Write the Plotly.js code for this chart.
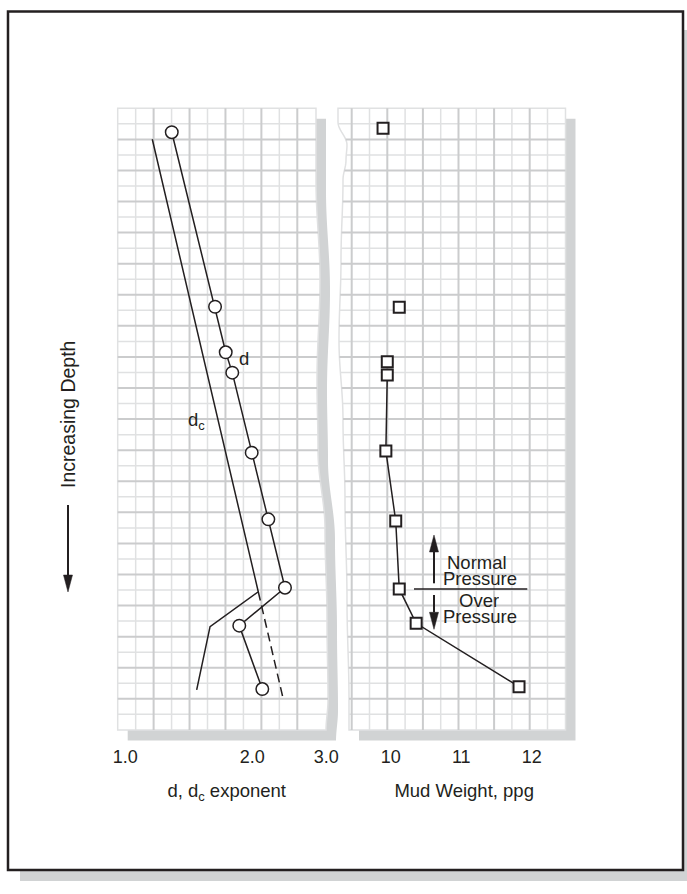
<!DOCTYPE html>
<html><head><meta charset="utf-8">
<script src="https://cdn.plot.ly/plotly-3.0.1.min.js"></script>
<style>html,body{margin:0;padding:0;background:#fff}#chart{width:687px;height:894px}</style>
</head><body><div id="chart"></div>
<script>
// ---------------- data (depth in arbitrary grid units, increasing downward) ----------------
const dDepth      = [1.54, 12.77, 15.70, 17.01, 22.16, 26.45, 30.85, 33.29, 37.37];
const dExponent   = [1.289, 1.633, 1.731, 1.794, 1.995, 2.185, 2.393, 1.864, 2.114];
const dcDepth     = [1.99, 31.11, 33.36, 37.43];
const dcExponent  = [1.159, 2.068, 1.589, 1.477];
const dcTrendDepth    = [31.11, 37.86];
const dcTrendExponent = [2.068, 2.363];
const mwDepth   = [1.29, 12.81, 16.31, 17.16, 22.05, 26.56, 30.93, 33.14, 37.22];
const mudWeight = [9.89, 10.12, 9.95, 9.95, 9.93, 10.07, 10.12, 10.36, 11.82];
const mwLineStart = 3;
const dTickVals = [1, 2, 3];
const dTickText = ['1.0', '2.0', '3.0'];
const mwTickVals = [10, 11, 12];
const mwTickText = ['10', '11', '12'];

// ---------------- decoration helpers (pixel -> paper) ----------------
const W = 687, H = 894;
const X = x => (x / W).toFixed(5);
const Y = y => (1 - y / H).toFixed(5);
function poly(pts, close) {
  return pts.map((p, i) => (i ? 'L' : 'M') + X(p[0]) + ',' + Y(p[1])).join(' ') + (close ? ' Z' : '');
}
function wave(k, y) {
  if (y <= k[0][0]) return k[0][1];
  for (let i = 0; i < k.length - 1; i++) {
    const [y0, v0] = k[i], [y1, v1] = k[i + 1];
    if (y <= y1) { const t = (y - y0) / (y1 - y0); const s = (1 - Math.cos(Math.PI * t)) / 2; return v0 + (v1 - v0) * s; }
  }
  return k[k.length - 1][1];
}
const rKnots = [[108,316],[180,316],[280,320],[380,317],[450,318],[530,325],[620,327],[700,328],[731,326]];
const lKnots = [[108,338],[122,338],[145,347],[160,346],[180,343],[260,341],[340,339],[420,343],[500,345],[600,347],[700,349],[731,349]];

const gTop = 108.3, gBot = 729.9, rows = 40, rowH = (gBot - gTop) / rows;
const lx0 = 117.7, lcw = 17.96;
const rx0 = 333.9, rcw = 17.8, rx1 = 565.5;

const leftPts = [[lx0, gTop]];
for (let y = gTop; y < gBot; y += 2) leftPts.push([wave(rKnots, y), y]);
leftPts.push([wave(rKnots, gBot), gBot]); leftPts.push([lx0, gBot]);
const rightPts = [[wave(lKnots, gTop), gTop], [rx1, gTop], [rx1, gBot]];
for (let y = gBot; y > gTop; y -= 2) rightPts.push([wave(lKnots, y), y]);
rightPts.push([wave(lKnots, gTop), gTop]);
const sh = p => [p[0] + 10, p[1] + 10.5];

let lLight = '', lHeavy = '', rLight = '', rHeavy = '';
for (let i = 1; i <= 10; i++) {
  const x = lx0 + i * lcw, s = poly([[x, gTop], [x, gBot]]) + ' ';
  if (i % 2 === 0) lHeavy += s; else lLight += s;
}
for (let j = 1; j <= 12; j++) {
  const x = rx0 + j * rcw, s = poly([[x, gTop], [x, gBot]]) + ' ';
  if (j % 2 === 1) rHeavy += s; else rLight += s;
}
for (let k = 1; k < rows; k++) {
  const y = gTop + k * rowH;
  const sl = poly([[lx0, y], [wave(rKnots, y), y]]) + ' ';
  const sr = poly([[wave(lKnots, y), y], [rx1, y]]) + ' ';
  if (k % 2 === 0) { lHeavy += sl; rHeavy += sr; } else { lLight += sl; rLight += sr; }
}
const INK = '#231f20', LIGHT = '#e0e1e2', HEAVY = '#cbcccd', SHADOW = '#d1d3d4';
const P = (path, o) => Object.assign({type: 'path', xref: 'paper', yref: 'paper', layer: 'below', path: path}, o);
const shapes = [
  P(poly([[20,30],[695,30],[695,881],[20,881]], true), {fillcolor: SHADOW, line: {width: 0}}),
  P(poly([[8,11.5],[683,11.5],[683,870],[8,870]], true), {fillcolor: '#ffffff', line: {color: INK, width: 2.5}}),
  P(poly(leftPts.map(sh), true), {fillcolor: SHADOW, line: {width: 0}}),
  P(poly(rightPts.map(sh), true), {fillcolor: SHADOW, line: {width: 0}}),
  P(poly(leftPts, true), {fillcolor: '#ffffff', line: {color: LIGHT, width: 1.5}}),
  P(poly(rightPts, true), {fillcolor: '#ffffff', line: {color: LIGHT, width: 1.5}}),
  P(lLight, {fillcolor: 'rgba(0,0,0,0)', line: {color: LIGHT, width: 1.5}}),
  P(rLight, {fillcolor: 'rgba(0,0,0,0)', line: {color: LIGHT, width: 1.5}}),
  P(lHeavy, {fillcolor: 'rgba(0,0,0,0)', line: {color: HEAVY, width: 2}}),
  P(rHeavy, {fillcolor: 'rgba(0,0,0,0)', line: {color: HEAVY, width: 2}})
];
function arrow(x, yTail, yTip) {
  const dir = yTip > yTail ? 1 : -1, hl = 17, hw = 4.5;
  const base = yTip - dir * hl;
  shapes.push(P(poly([[x, yTail], [x, base]]), {layer: 'above', line: {color: INK, width: 2}}));
  shapes.push(P(poly([[x - hw, base], [x + hw, base], [x, yTip]], true), {layer: 'above', fillcolor: INK, line: {color: INK, width: 0.5}}));
}
arrow(68, 505, 592);
arrow(434, 583.3, 535);
arrow(434, 595, 629.3);
shapes.push(P(poly([[414, 589], [527.3, 589]]), {layer: 'above', line: {color: INK, width: 1.5}}));

// ---------------- traces ----------------
const FONT = 'Liberation Sans, Arial, Helvetica, sans-serif';
const traces = [
  {x: dcExponent, y: dcDepth, xaxis: 'x', yaxis: 'y', mode: 'lines', line: {color: INK, width: 1.5}, hoverinfo: 'skip'},
  {x: dcTrendExponent, y: dcTrendDepth, xaxis: 'x', yaxis: 'y', mode: 'lines', line: {color: INK, width: 1.5, dash: '9px,5px'}, hoverinfo: 'skip'},
  {x: dExponent, y: dDepth, xaxis: 'x', yaxis: 'y', mode: 'lines+markers', line: {color: INK, width: 1.5},
   marker: {symbol: 'circle', size: 12.5, color: '#ffffff', line: {color: INK, width: 1.5}}},
  {x: mudWeight.slice(mwLineStart), y: mwDepth.slice(mwLineStart), xaxis: 'x2', yaxis: 'y', mode: 'lines', line: {color: INK, width: 1.5}, hoverinfo: 'skip'},
  {x: mudWeight, y: mwDepth, xaxis: 'x2', yaxis: 'y', mode: 'markers',
   marker: {symbol: 'square', size: 11, color: '#ffffff', line: {color: INK, width: 2}}}
];

// pixel <-> value calibration of the printed scales
const dPx0 = 125.3, dPxPerDecade = 421.4;     // log10(d)=0 at 125.3 px
const mwPx10 = 390.8, mwPxPerUnit = 70.45;   // 10 ppg at 390.8 px
const lDom = [118, 335.4], rDom = [348, 580.4];
const tickFont = {family: FONT, size: 18, color: INK};
const titleFont = {family: FONT, size: 18.5, color: INK};
const axBase = {showgrid: false, zeroline: false, showline: false, ticks: 'outside', ticklen: 10,
  tickcolor: 'rgba(0,0,0,0)', tickfont: tickFont, fixedrange: true, anchor: 'y'};
const tight = {xref: 'paper', yref: 'paper', showarrow: false, font: titleFont, xanchor: 'center', yanchor: 'middle', height: 15, valign: 'middle', borderpad: 0};

const layout = {
  width: W, height: H, margin: {l: 0, r: 0, t: 0, b: 0},
  paper_bgcolor: '#ffffff', plot_bgcolor: 'rgba(0,0,0,0)', showlegend: false,
  xaxis: Object.assign({}, axBase, {type: 'log', domain: [lDom[0] / W, lDom[1] / W],
    range: [(lDom[0] - dPx0) / dPxPerDecade, (lDom[1] - dPx0) / dPxPerDecade],
    tickmode: 'array', tickvals: dTickVals, ticktext: dTickText,
    title: {text: 'd, d<sub>c</sub> exponent', font: titleFont, standoff: 18}}),
  xaxis2: Object.assign({}, axBase, {type: 'linear', domain: [rDom[0] / W, rDom[1] / W],
    range: [10 + (rDom[0] - mwPx10) / mwPxPerUnit, 10 + (rDom[1] - mwPx10) / mwPxPerUnit],
    tickmode: 'array', tickvals: mwTickVals, ticktext: mwTickText,
    title: {text: 'Mud Weight, ppg', font: titleFont, standoff: 18}}),
  yaxis: {domain: [1 - gBot / H, 1 - gTop / H], range: [rows, 0], visible: false, fixedrange: true},
  shapes: shapes,
  annotations: [
    {xref: 'paper', yref: 'paper', x: 68 / W, y: 1 - 415 / H, text: 'Increasing Depth', textangle: -90, showarrow: false, font: {family: FONT, size: 19.5, color: INK}, xanchor: 'center', yanchor: 'middle'},
    {xref: 'paper', yref: 'paper', x: 237 / W, y: 1 - 358 / H, text: 'd', showarrow: false, font: titleFont, xanchor: 'left', yanchor: 'middle'},
    {xref: 'paper', yref: 'paper', x: 186 / W, y: 1 - 421 / H, text: 'd<sub>c</sub>', showarrow: false, font: titleFont, xanchor: 'left', yanchor: 'middle'},
    Object.assign({}, tight, {x: 477 / W, y: 1 - 562.7 / H, text: 'Normal'}),
    Object.assign({}, tight, {x: 479.7 / W, y: 1 - 578.3 / H, text: 'Pressure'}),
    Object.assign({}, tight, {x: 479.3 / W, y: 1 - 600 / H, text: 'Over'}),
    Object.assign({}, tight, {x: 479.7 / W, y: 1 - 616 / H, text: 'Pressure'})
  ]
};
Plotly.newPlot('chart', traces, layout, {displayModeBar: false, staticPlot: true});
</script></body></html>
